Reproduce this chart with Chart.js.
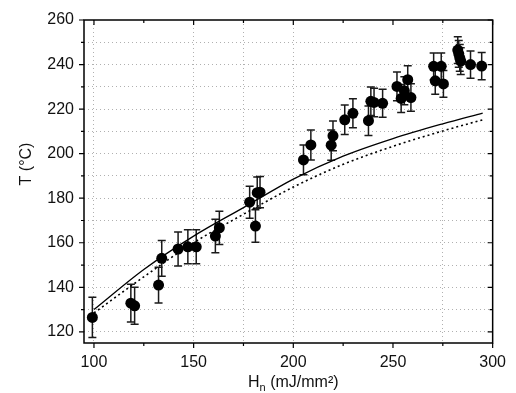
<!DOCTYPE html>
<html>
<head>
<meta charset="utf-8">
<script src="https://cdn.jsdelivr.net/npm/chart.js@4"></script>
<style>
html,body{margin:0;padding:0;background:#fff;}
canvas{display:block;}
</style>
</head>
<body>
<canvas id="c" width="516" height="393"></canvas>
<script>
// measured points: H_n (mJ/mm2), T (C), error
const hn   = [99.2,118.5,120.4,132.4,134,142.2,147.1,151.3,160.9,162.9,178.1,181,181.9,183.3,205.1,208.8,219,219.9,225.8,229.9,237.7,238.9,240.5,244.8,252,254.1,255.7,257.4,259,270.4,271.2,274.2,275.3,282.5,283,283.5,284,288.9,294.5];
const temp = [126.5,132.9,131.7,141,153,157.2,158.2,158.2,163,166.7,178.2,167.5,182.5,182.7,197.2,203.9,203.8,208,215.2,218.1,214.8,223.5,223,222.6,230.2,224.8,228.2,233.2,225.2,239.2,232.7,239.2,231.3,246.5,244.8,243,241.5,240,239.3];
const tErr = [9,8.5,8.3,8,8,7.6,7.6,7.6,7.5,7.5,7.2,7.3,7,7,6.7,6.7,6.8,6.7,6.6,6.5,6.6,6.4,6.4,6.3,6.5,6.3,6.3,6.3,6.2,6,6,6,6,6,6,6,6,6.1,6.1];
// model curves
const fitH      = [100,125,150,175,200,225,250,275,295];
const fitSolid  = [130,148,163,175.8,188.6,198.9,206.8,213.4,218.2];
const fitDotted = [128.5,144.7,160,172.8,185,195.2,203.3,210.2,215.2];
// axes
const xTicks = [100,125,150,175,200,225,250,275,300];
const xLabels = [100,150,200,250,300];
const xGrid = [100,150,175,200,275];
const yTicks = [120,130,140,150,160,170,180,190,200,210,220,230,240,250,260];
const yLabels = [120,140,160,180,200,220,240,260];

const FONT='"Liberation Sans", Arial, sans-serif';

const errorBars={
 id:'errorBars',
 beforeDatasetsDraw(chart){
  const {ctx,scales:{x,y}}=chart;
  ctx.save();ctx.strokeStyle='#1a1a1a';ctx.lineWidth=1.5;
  hn.forEach((h,i)=>{
   const px=x.getPixelForValue(h),t=y.getPixelForValue(temp[i]+tErr[i]),b=y.getPixelForValue(temp[i]-tErr[i]);
   ctx.beginPath();
   ctx.moveTo(px,t);ctx.lineTo(px,b);
   ctx.moveTo(px-4,t);ctx.lineTo(px+4,t);
   ctx.moveTo(px-4,b);ctx.lineTo(px+4,b);
   ctx.stroke();
  });
  ctx.restore();
 }
};

const frame={
 id:'frame',
 afterDraw(chart){
  const {ctx,chartArea:a,scales:{x,y}}=chart;
  ctx.save();ctx.strokeStyle='#000';ctx.lineWidth=1.5;
  ctx.strokeRect(a.left,a.top,a.right-a.left,a.bottom-a.top);
  ctx.lineWidth=1.2;ctx.beginPath();
  xTicks.forEach(v=>{
   const p=x.getPixelForValue(v),L=xLabels.includes(v)?5:3;
   ctx.moveTo(p,a.bottom);ctx.lineTo(p,a.bottom+L);
   ctx.moveTo(p,a.top);ctx.lineTo(p,a.top+L);
  });
  yTicks.forEach(v=>{
   const p=y.getPixelForValue(v),L=yLabels.includes(v)?5:3;
   ctx.moveTo(a.left,p);ctx.lineTo(a.left-L,p);
   ctx.moveTo(a.right,p);ctx.lineTo(a.right-L,p);
  });
  ctx.stroke();
  // axis titles
  ctx.fillStyle='#111';
  ctx.font='16px '+FONT;ctx.textBaseline='middle';
  const w1=ctx.measureText('H').width;
  ctx.font='11px '+FONT;const w2=ctx.measureText('n').width;
  ctx.font='16px '+FONT;const w3=ctx.measureText(' (mJ/mm²)').width;
  let sx=(a.left+a.right)/2+5-(w1+w2+w3)/2,ty=383;
  ctx.textAlign='left';
  ctx.fillText('H',sx,ty);
  ctx.font='11px '+FONT;ctx.fillText('n',sx+w1,ty+5);
  ctx.font='16px '+FONT;ctx.fillText(' (mJ/mm²)',sx+w1+w2,ty);
  ctx.translate(27,164);ctx.rotate(-Math.PI/2);ctx.textAlign='center';
  ctx.fillText('T (°C)',0,0);
  ctx.restore();
 }
};

new Chart(document.getElementById('c'),{
 type:'scatter',
 data:{datasets:[
  {label:'data',data:hn.map((h,i)=>({x:h,y:temp[i]})),pointRadius:5.5,pointBackgroundColor:'#000',pointBorderColor:'#000',pointBorderWidth:0},
  {type:'line',label:'solid',data:fitH.map((h,i)=>({x:h,y:fitSolid[i]})),borderColor:'#000',borderWidth:1.3,pointRadius:0,tension:0.4,cubicInterpolationMode:'monotone',fill:false},
  {type:'line',label:'dotted',data:fitH.map((h,i)=>({x:h,y:fitDotted[i]})),borderColor:'#000',borderWidth:1.6,borderDash:[2,3],pointRadius:0,tension:0.4,cubicInterpolationMode:'monotone',fill:false}
 ]},
 options:{
  responsive:false,animation:false,
  layout:{padding:{top:20,right:15,left:0,bottom:0}},
  plugins:{legend:{display:false},tooltip:{enabled:false}},
  scales:{
   x:{type:'linear',min:95,max:300,
    afterBuildTicks:s=>{s.ticks=xTicks.map(v=>({value:v}));},
    afterFit:s=>{s.height=50;},
    border:{display:false,dash:[1,3]},
    grid:{drawTicks:false,lineWidth:1,color:c=>xGrid.includes(c.tick&&c.tick.value)?'#b0b0b0':'rgba(0,0,0,0)'},
    ticks:{padding:10,color:'#111',font:{family:FONT,size:16},maxRotation:0,autoSkip:false,
     callback:v=>xLabels.includes(v)?String(v):''}},
   y:{type:'linear',min:115,max:260,
    afterBuildTicks:s=>{s.ticks=yTicks.map(v=>({value:v}));},
    afterFit:s=>{s.width=84;},
    border:{display:false,dash:[1,3]},
    grid:{drawTicks:false,lineWidth:1,color:c=>(c.tick&&c.tick.value<260)?'#b0b0b0':'rgba(0,0,0,0)'},
    ticks:{padding:10,color:'#111',font:{family:FONT,size:16},autoSkip:false,
     callback:v=>yLabels.includes(v)?String(v):''}}
  }
 },
 plugins:[errorBars,frame]
});
</script>
</body>
</html>
